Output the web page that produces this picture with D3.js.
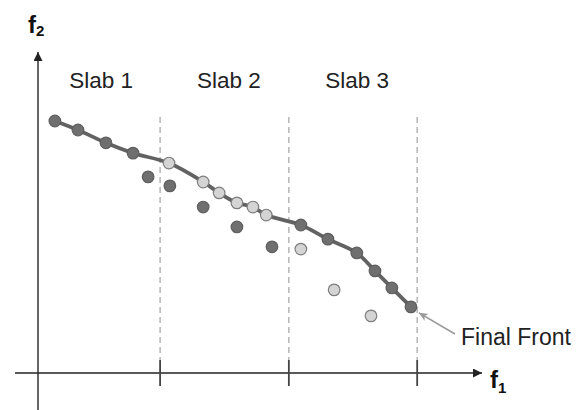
<!DOCTYPE html>
<html><head><meta charset="utf-8">
<script src="https://cdn.jsdelivr.net/npm/d3@7"></script>
<style>html,body{margin:0;padding:0;background:#fff}</style>
</head><body>
<svg id="c" width="584" height="410"></svg>
<script>
// Data (f1, f2 in arbitrary units)
const slabLabels = ["Slab 1", "Slab 2", "Slab 3"];
const slabLabelX = [1.42, 4.30, 7.19];
const slabBounds = [2.75, 5.65, 8.54];
const frontSlab1 = [[0.38,7.85],[0.90,7.57],[1.53,7.17],[2.14,6.85]];
const frontSlab2 = [[2.95,6.54],[3.72,5.95],[4.08,5.61],[4.48,5.30],[4.84,5.17],[5.14,4.92]];
const frontSlab3 = [[5.92,4.61],[6.53,4.17],[7.18,3.74],[7.59,3.18],[7.97,2.65],[8.40,2.06]];
const offDark = [[2.48,6.11],[2.97,5.83],[3.72,5.17],[4.48,4.55],[5.27,3.93]];
const offLight = [[5.92,3.86],[6.67,2.59],[7.50,1.78]];
const annotation = "Final Front";

const svg = d3.select("#c");
const x = d3.scaleLinear().domain([0,10]).range([38,482]);
const y = d3.scaleLinear().domain([0,10]).range([373,52]);
const font = "'Liberation Sans', Arial, sans-serif";

svg.append("defs").append("marker").attr("id","ah").attr("viewBox","0 0 10 10")
  .attr("refX",10).attr("refY",5).attr("markerWidth",9).attr("markerHeight",9)
  .attr("markerUnits","userSpaceOnUse").attr("orient","auto")
  .append("path").attr("d","M0,0L10,5L0,10z").attr("fill","#222");
svg.select("defs").append("marker").attr("id","ah2").attr("viewBox","0 0 10 10")
  .attr("refX",10).attr("refY",5).attr("markerWidth",9).attr("markerHeight",9)
  .attr("markerUnits","userSpaceOnUse").attr("orient","auto")
  .append("path").attr("d","M0,0.5L10,5L0,9.5L3,5z").attr("fill","#999");

// dashed slab boundaries
svg.selectAll(".dash").data(slabBounds).join("line")
  .attr("x1",d=>x(d)).attr("x2",d=>x(d)).attr("y1",117).attr("y2",360)
  .attr("stroke","#aaa").attr("stroke-width",1.3).attr("stroke-dasharray","6,4");

// axes
svg.append("line").attr("x1",15).attr("x2",x(10)).attr("y1",y(0)).attr("y2",y(0))
  .attr("stroke","#222").attr("stroke-width",1.5).attr("marker-end","url(#ah)");
svg.append("line").attr("x1",x(0)).attr("x2",x(0)).attr("y1",410).attr("y2",y(10))
  .attr("stroke","#333").attr("stroke-width",1.5).attr("marker-end","url(#ah)");
svg.selectAll(".tick").data(slabBounds).join("line")
  .attr("x1",d=>x(d)).attr("x2",d=>x(d)).attr("y1",y(0)-13).attr("y2",y(0)+13)
  .attr("stroke","#444").attr("stroke-width",1.8);

// axis labels
const f2 = svg.append("text").attr("x",28).attr("y",33).attr("font-family",font)
  .attr("font-weight","bold").attr("font-size",24).attr("fill","#111");
f2.append("tspan").text("f");
f2.append("tspan").attr("font-size",15).attr("dy",3).text("2");
const f1 = svg.append("text").attr("x",490).attr("y",388).attr("font-family",font)
  .attr("font-weight","bold").attr("font-size",24).attr("fill","#111");
f1.append("tspan").text("f");
f1.append("tspan").attr("font-size",15).attr("dy",5).text("1");

// slab labels
svg.selectAll(".slab").data(slabLabels).join("text")
  .attr("x",(d,i)=>x(slabLabelX[i])).attr("y",88).attr("text-anchor","middle")
  .attr("font-family",font).attr("font-size",22.5).attr("fill","#222").text(d=>d);

// front line
const front = frontSlab1.concat(frontSlab2, frontSlab3);
const line = d3.line().x(d=>x(d[0])).y(d=>y(d[1])).curve(d3.curveCatmullRom.alpha(0.5));
svg.append("path").attr("d",line(front)).attr("fill","none")
  .attr("stroke","#626262").attr("stroke-width",3.8).attr("stroke-linecap","round");

const dark = {fill:"#6f6f6f", stroke:"#5e5e5e"};
const light = {fill:"#d4d4d4", stroke:"#7e7e7e"};
function pts(data, st){
  svg.append("g").selectAll("circle").data(data).join("circle")
    .attr("cx",d=>x(d[0])).attr("cy",d=>y(d[1])).attr("r",5.8)
    .attr("fill",st.fill).attr("stroke",st.stroke).attr("stroke-width",1.2);
}
pts(frontSlab1, dark); pts(frontSlab2, light); pts(frontSlab3, dark);
pts(offDark, dark); pts(offLight, light);

// annotation
const last = frontSlab3[frontSlab3.length-1];
svg.append("line").attr("x1",455).attr("y1",334).attr("x2",x(last[0])+8).attr("y2",y(last[1])+6)
  .attr("stroke","#999").attr("stroke-width",1.6).attr("marker-end","url(#ah2)");
svg.append("text").attr("x",461).attr("y",345).attr("font-family",font)
  .attr("font-size",23).attr("fill","#222").text(annotation);
</script>
</body></html>
